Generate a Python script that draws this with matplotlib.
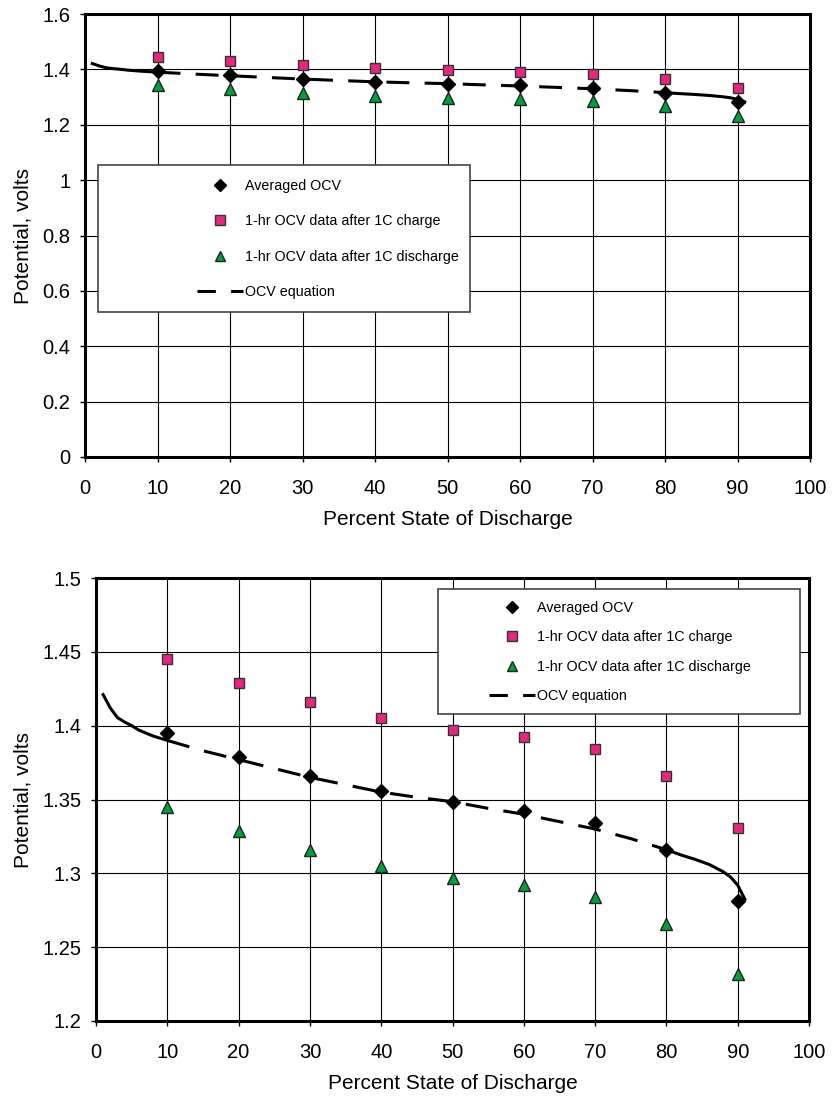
import matplotlib
matplotlib.use("Agg")
import matplotlib.pyplot as plt
from matplotlib.patches import Rectangle
from matplotlib.lines import Line2D
import numpy as np

plt.rcParams['font.family'] = ['Liberation Sans', 'DejaVu Sans']

# Percent state of discharge where OCV was measured
sod = [10, 20, 30, 40, 50, 60, 70, 80, 90]
# 1-hr OCV after 1C charge
ocv_charge = [1.445, 1.429, 1.416, 1.405, 1.397, 1.392, 1.384, 1.366, 1.331]
# 1-hr OCV after 1C discharge
ocv_discharge = [1.345, 1.329, 1.316, 1.305, 1.297, 1.292, 1.284, 1.266, 1.232]
# averaged OCV
ocv_avg = [1.395, 1.379, 1.366, 1.356, 1.348, 1.342, 1.334, 1.316, 1.281]

# OCV equation curve
eq_x = [1, 2, 3, 4, 5, 6, 7, 8, 9, 10, 15, 20, 25, 30, 35, 40, 45, 50, 55, 60,
        65, 70, 75, 80, 82, 84, 86, 88, 89, 90, 91]
eq_y = [1.421, 1.412, 1.4055, 1.4025, 1.400, 1.397, 1.395, 1.393, 1.3915, 1.390,
        1.383, 1.377, 1.371, 1.365, 1.360, 1.355, 1.3515, 1.3485, 1.344, 1.340,
        1.335, 1.330, 1.3235, 1.316, 1.3125, 1.3095, 1.306, 1.301, 1.2975, 1.292,
        1.2825]

top_yticks = [0, 0.2, 0.4, 0.6, 0.8, 1.0, 1.2, 1.4, 1.6]
top_ylabels = ['0', '0.2', '0.4', '0.6', '0.8', '1', '1.2', '1.4', '1.6']
bot_yticks = [1.2, 1.25, 1.3, 1.35, 1.4, 1.45, 1.5]
bot_ylabels = ['1.2', '1.25', '1.3', '1.35', '1.4', '1.45', '1.5']
xticks = list(range(0, 101, 10))

PINK = '#E4277F'
GREEN = '#00A03C'
W, H = 832, 1099

fig = plt.figure(figsize=(W / 100, H / 100), dpi=100)


def px_axes(l, t, r, b):
    return fig.add_axes([l / W, 1 - b / H, (r - l) / W, (b - t) / H])


def draw(ax, yticks, ylabels, ylim, rect, leg_anchor, spacing):
    ax.set_xlim(0, 100)
    ax.set_ylim(*ylim)
    ax.set_xticks(xticks)
    ax.set_yticks(yticks)
    ax.set_yticklabels(ylabels)
    ax.grid(True, color='black', lw=0.8)
    ax.set_axisbelow(True)
    for s in ax.spines.values():
        s.set_linewidth(2.2)
    ax.tick_params(direction='out', length=3.6, width=1, labelsize=14.5)
    ax.tick_params(axis='x', pad=12)
    ax.tick_params(axis='y', pad=7)

    x = np.array(eq_x)
    y = np.array(eq_y)
    i10 = eq_x.index(10)
    i80 = eq_x.index(80)
    ax.plot(x[:i10 + 1], y[:i10 + 1], color='black', lw=2.2, zorder=3)
    ax.plot(x[i10:i80 + 1], y[i10:i80 + 1], color='black', lw=2.2,
            dashes=(7.5, 5), zorder=3)
    ax.plot(x[i80:], y[i80:], color='black', lw=2.2, zorder=3)

    ax.plot(sod, ocv_charge, 's', ms=7.5, mfc=PINK, mec='#333333', mew=1, zorder=4)
    ax.plot(sod, ocv_discharge, '^', ms=9, mfc=GREEN, mec='#222222', mew=1, zorder=4)
    ax.plot(sod, ocv_avg, 'D', ms=7.5, mfc='black', mec='black', zorder=5)

    ax.set_xlabel('Percent State of Discharge', fontsize=15, labelpad=9)
    ax.set_ylabel('Potential, volts', fontsize=15, labelpad=7)

    ax.add_patch(Rectangle((rect[0], rect[1]), rect[2], rect[3], transform=ax.transAxes,
                           facecolor='white', edgecolor='#444444', lw=1.2, zorder=6))
    handles = [
        Line2D([], [], ls='none', marker='D', ms=6, mfc='black', mec='black'),
        Line2D([], [], ls='none', marker='s', ms=6.5, mfc=PINK, mec='#333333', mew=1),
        Line2D([], [], ls='none', marker='^', ms=7.5, mfc=GREEN, mec='#222222', mew=1),
        Line2D([], [], color='black', lw=2.2, dashes=(6, 5)),
    ]
    labels = ['Averaged OCV', '1-hr OCV data after 1C charge',
              '1-hr OCV data after 1C discharge', 'OCV equation']
    leg = ax.legend(handles, labels, loc='center left', bbox_to_anchor=leg_anchor,
                    frameon=False, fontsize=10.3, handlelength=3.2, handletextpad=0.15,
                    borderpad=0, borderaxespad=0, labelspacing=spacing)
    leg.set_zorder(7)


ax1 = px_axes(85, 14, 810, 457)
draw(ax1, top_yticks, top_ylabels, (0, 1.6),
     (0.018, 0.327, 0.513, 0.332), (0.1545, 0.492), 1.5)

ax2 = px_axes(96, 578, 809, 1021)
draw(ax2, bot_yticks, bot_ylabels, (1.2, 1.5),
     (0.48, 0.693, 0.508, 0.282), (0.551, 0.833), 1.06)

fig.savefig('out.png', dpi=100)
